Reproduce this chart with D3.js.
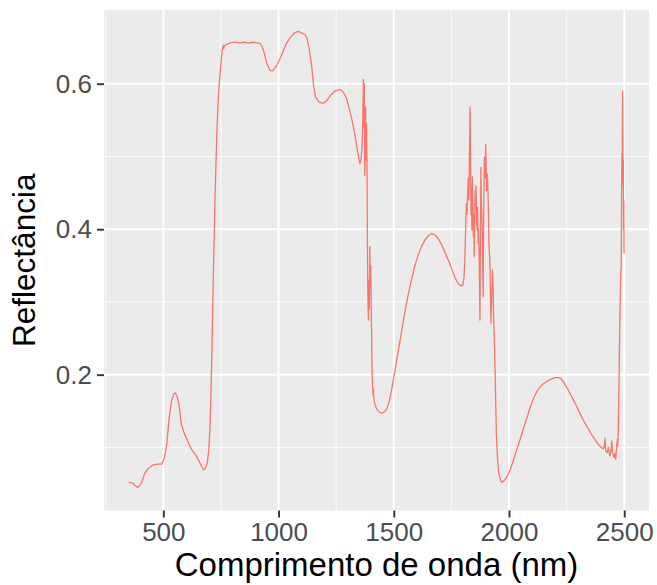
<!DOCTYPE html>
<html>
<head>
<meta charset="utf-8">
<script src="https://cdn.jsdelivr.net/npm/d3@7"></script>
<style>
  html, body { margin: 0; padding: 0; background: #ffffff; }
  svg { display: block; }
</style>
</head>
<body>
<svg id="chart" width="657" height="585"></svg>
<script>
// ---- data ----
const wavelength = [
  350,365,380,390,405,420,435,455,475,493,505,515,525,535,545,552,560,568,578,590,600,612,623,635,645,660,674,682,690,697,702,706,710,716,724,732,738,744,749,755,760,762,765,775,790,810,830,850,870,890,910,922,930,940,950,963,975,992,1010,1035,1055,1070,1085,1100,1115,1122,1132,1144,1152,1160,1175,1194,1210,1225,1245,1266,1280,1295,1310,1322,1335,1345,1353,1358,1362,1364,1366,1368,1370,1372,1374,1376,1378,1380,1382,1384,1386,1388,1390,1392,1394,1396,1398,1400,1402,1404,1406,1408,1410,1412,1414,1418,1425,1435,1447,1460,1470,1480,1490,1500,1515,1530,1545,1560,1575,1590,1605,1620,1635,1650,1665,1680,1695,1710,1725,1740,1755,1768,1780,1792,1800,1805,1808,1812,1815,1818,1820,1823,1826,1829,1831,1833,1835,1837,1839,1841,1843,1845,1847,1849,1851,1853,1855,1857,1859,1862,1864,1866,1868,1871,1873,1874,1876,1878,1880,1882,1884,1886,1888,1890,1893,1896,1899,1901,1903,1906,1908,1911,1913,1916,1918,1920,1922,1925,1928,1930,1932,1934,1936,1940,1945,1950,1955,1962,1969,1978,1990,2005,2020,2035,2050,2065,2080,2095,2110,2125,2140,2155,2170,2185,2200,2215,2225,2240,2255,2270,2285,2300,2315,2330,2345,2360,2375,2388,2400,2410,2415,2417,2419,2421,2426,2431,2435,2438,2442,2446,2448,2452,2456,2460,2463,2466,2470,2472,2474,2476,2478,2480,2483,2485,2487,2488,2490,2491,2492,2493,2494,2495,2496,2497,2498,2499,2500
];
const reflectance = [
  0.052,0.051,0.047,0.045,0.051,0.065,0.071,0.076,0.077,0.077,0.086,0.105,0.140,0.163,0.173,0.175,0.170,0.158,0.132,0.120,0.113,0.104,0.097,0.092,0.087,0.078,0.069,0.071,0.078,0.095,0.125,0.165,0.220,0.320,0.440,0.530,0.578,0.605,0.624,0.645,0.653,0.648,0.652,0.654,0.656,0.657,0.656,0.657,0.656,0.657,0.656,0.655,0.650,0.640,0.627,0.618,0.618,0.625,0.637,0.656,0.665,0.670,0.672,0.670,0.667,0.664,0.650,0.623,0.598,0.582,0.575,0.573,0.577,0.584,0.590,0.592,0.589,0.580,0.562,0.545,0.523,0.503,0.490,0.497,0.512,0.530,0.560,0.606,0.540,0.600,0.474,0.520,0.568,0.495,0.545,0.480,0.360,0.300,0.275,0.330,0.290,0.376,0.320,0.350,0.300,0.250,0.200,0.185,0.172,0.180,0.165,0.160,0.153,0.149,0.147,0.149,0.153,0.163,0.178,0.196,0.224,0.252,0.280,0.306,0.328,0.348,0.364,0.376,0.385,0.391,0.394,0.392,0.386,0.377,0.366,0.355,0.342,0.332,0.325,0.322,0.323,0.335,0.356,0.400,0.435,0.420,0.445,0.470,0.440,0.520,0.568,0.500,0.420,0.460,0.399,0.472,0.440,0.390,0.420,0.362,0.400,0.453,0.430,0.460,0.410,0.399,0.430,0.380,0.400,0.353,0.300,0.275,0.380,0.485,0.440,0.420,0.394,0.350,0.307,0.420,0.499,0.470,0.517,0.480,0.453,0.476,0.460,0.420,0.380,0.362,0.340,0.300,0.271,0.310,0.344,0.335,0.300,0.270,0.252,0.200,0.120,0.085,0.066,0.056,0.052,0.054,0.059,0.069,0.083,0.098,0.113,0.128,0.143,0.158,0.170,0.179,0.185,0.189,0.192,0.194,0.196,0.196,0.195,0.188,0.180,0.171,0.162,0.152,0.142,0.133,0.125,0.117,0.110,0.104,0.100,0.098,0.105,0.113,0.098,0.095,0.093,0.100,0.092,0.088,0.095,0.109,0.095,0.090,0.086,0.092,0.084,0.095,0.111,0.102,0.122,0.160,0.202,0.260,0.312,0.340,0.348,0.420,0.504,0.470,0.560,0.590,0.520,0.460,0.495,0.400,0.440,0.370,0.367
];
const xTicks = [500, 1000, 1500, 2000, 2500];
const xMinor = [250, 750, 1250, 1750, 2250];
const yTicks = [0.2, 0.4, 0.6];
const yMinor = [0.1, 0.3, 0.5];
const xTitle = "Comprimento de onda (nm)";
const yTitle = "Reflectância";

// ---- layout ----
const panel = { left: 104, right: 649, top: 10, bottom: 510.5 };
const svg = d3.select("#chart");
const font = "'Liberation Sans', Arial, sans-serif";

const x = d3.scaleLinear().domain([242.5, 2607.5]).range([panel.left, panel.right]);
const y = d3.scaleLinear().domain([0.0133, 0.7013]).range([panel.bottom, panel.top]);

// panel background
svg.append("rect")
  .attr("x", panel.left).attr("y", panel.top)
  .attr("width", panel.right - panel.left).attr("height", panel.bottom - panel.top)
  .attr("fill", "#EBEBEB");

const grid = svg.append("g");
// minor grid
grid.selectAll(".xminor").data(xMinor).join("line")
  .attr("x1", d => x(d)).attr("x2", d => x(d))
  .attr("y1", panel.top).attr("y2", panel.bottom)
  .attr("stroke", "#ffffff").attr("stroke-width", 0.8);
grid.selectAll(".yminor").data(yMinor).join("line")
  .attr("y1", d => y(d)).attr("y2", d => y(d))
  .attr("x1", panel.left).attr("x2", panel.right)
  .attr("stroke", "#ffffff").attr("stroke-width", 0.8);
// major grid
grid.selectAll(".xmajor").data(xTicks).join("line")
  .attr("x1", d => x(d)).attr("x2", d => x(d))
  .attr("y1", panel.top).attr("y2", panel.bottom)
  .attr("stroke", "#ffffff").attr("stroke-width", 1.9);
grid.selectAll(".ymajor").data(yTicks).join("line")
  .attr("y1", d => y(d)).attr("y2", d => y(d))
  .attr("x1", panel.left).attr("x2", panel.right)
  .attr("stroke", "#ffffff").attr("stroke-width", 1.9);

// line
const pts = wavelength.map((w, i) => [w, reflectance[i]]);
const line = d3.line().x(d => x(d[0])).y(d => y(d[1]));
svg.append("path")
  .datum(pts)
  .attr("d", line)
  .attr("fill", "none")
  .attr("stroke", "#F8766D")
  .attr("stroke-width", 1.3)
  .attr("stroke-linejoin", "round");

// axes
const xAxis = svg.append("g")
  .attr("transform", `translate(0,${panel.bottom})`)
  .call(d3.axisBottom(x).tickValues(xTicks).tickSize(7).tickPadding(5).tickFormat(d3.format("d")));
const yAxis = svg.append("g")
  .attr("transform", `translate(${panel.left},0)`)
  .call(d3.axisLeft(y).tickValues(yTicks).tickSize(7).tickPadding(5).tickFormat(d3.format(".1f")));
[xAxis, yAxis].forEach(a => {
  a.select(".domain").remove();
  a.selectAll(".tick line").attr("stroke", "#333333").attr("stroke-width", 1.9);
  a.selectAll(".tick text").attr("fill", "#4D4D4D").style("font-family", font).style("font-size", "26px");
});

// titles
svg.append("text")
  .attr("x", (panel.left + panel.right) / 2).attr("y", 576)
  .attr("text-anchor", "middle")
  .style("font-family", font).style("font-size", "33px").attr("fill", "#000000")
  .text(xTitle);
svg.append("text")
  .attr("transform", `translate(35,${(panel.top + panel.bottom) / 2}) rotate(-90)`)
  .attr("text-anchor", "middle")
  .style("font-family", font).style("font-size", "31.5px").attr("fill", "#000000")
  .text(yTitle);
</script>
</body>
</html>
